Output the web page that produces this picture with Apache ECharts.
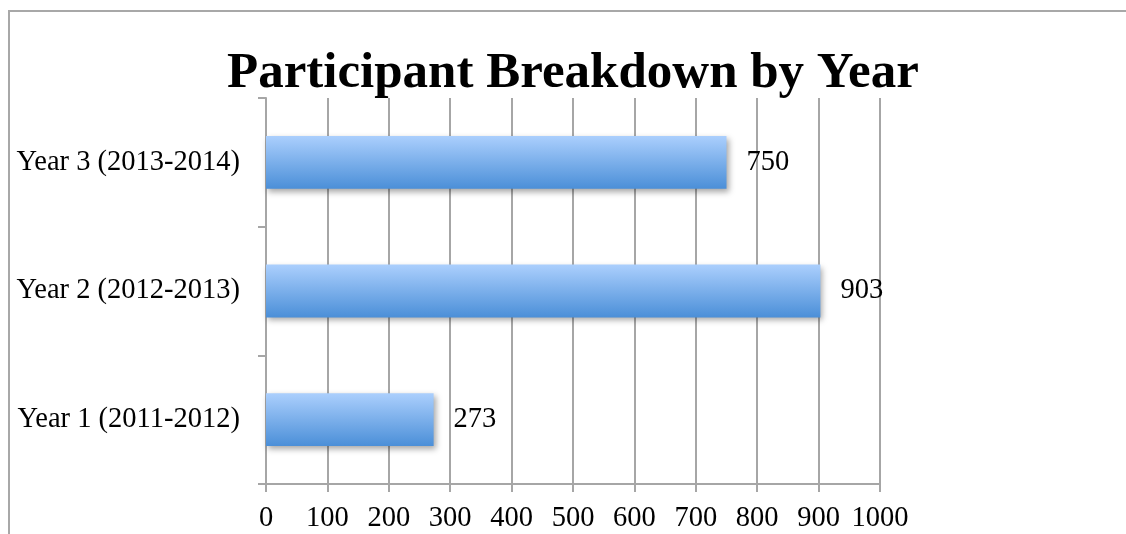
<!DOCTYPE html>
<html>
<head>
<meta charset="utf-8">
<script src="https://cdn.jsdelivr.net/npm/echarts@6/dist/echarts.min.js"></script>
<style>
  html, body { margin: 0; padding: 0; background: #fff; }
  #frame { position: absolute; left: 8px; top: 10px; right: 0; bottom: 0;
           border-left: 2px solid #a8a8a8; border-top: 2px solid #a8a8a8; }
  #chart { position: absolute; left: 0; top: 0; width: 1126px; height: 534px; }
</style>
</head>
<body>
<div id="frame"></div>
<div id="chart"></div>
<script>
// chart data
var categories = ['Year 1 (2011-2012)', 'Year 2 (2012-2013)', 'Year 3 (2013-2014)']
var participants = [273, 903, 750]
var xTicks = { min: 0, max: 1000, step: 100 }

var serif = 'Liberation Serif'
var gridColor = '#a6a6a6'

var myChart = echarts.init(document.getElementById('chart'), null, { renderer: 'canvas' })
var option = {
    animation: false,
    title: {
        text: 'Participant Breakdown by Year',
        left: 222,
        top: 43,
        textStyle: {
            fontFamily: serif,
            fontWeight: 'bold',
            fontSize: 51,
            color: '#000'
        }
    },
    grid: {
        left: 266,
        right: 246,
        top: 98,
        bottom: 50
    },
    xAxis: {
        type: 'value',
        min: xTicks.min,
        max: xTicks.max,
        interval: xTicks.step,
        axisLine: { show: true, lineStyle: { color: gridColor, width: 2 } },
        axisTick: { show: true, length: 8, lineStyle: { color: gridColor, width: 2 } },
        splitLine: { show: true, lineStyle: { color: gridColor, width: 2 } },
        axisLabel: {
            margin: 20,
            fontFamily: serif,
            fontSize: 28.5,
            color: '#000',
            formatter: function(v) { return String(v) }
        }
    },
    yAxis: {
        type: 'category',
        data: categories,
        axisLine: { show: true, lineStyle: { color: gridColor, width: 2 } },
        axisTick: { show: true, length: 8, lineStyle: { color: gridColor, width: 2 } },
        splitLine: { show: false },
        axisLabel: {
            margin: 26,
            fontFamily: serif,
            fontSize: 28.5,
            color: '#000'
        }
    },
    series: [
        {
            type: 'bar',
            data: participants,
            barWidth: '41%',
            itemStyle: {
                color: new echarts.graphic.LinearGradient(0, 0, 0, 1, [
                    { offset: 0, color: '#abcffd' },
                    { offset: 1, color: '#4b8fd8' }
                ]),
                shadowColor: 'rgba(0, 0, 0, 0.35)',
                shadowBlur: 6,
                shadowOffsetX: 2,
                shadowOffsetY: 3
            },
            label: {
                show: true,
                position: 'right',
                distance: 20,
                fontFamily: serif,
                fontSize: 28.5,
                color: '#000'
            }
        }
    ]
}
myChart.setOption(option)
</script>
</body>
</html>
